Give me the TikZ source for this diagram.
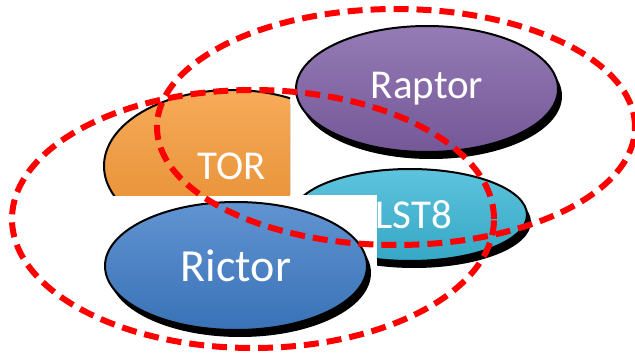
\documentclass[tikz,border=0pt]{standalone}
\usepackage{fontspec}
\setmainfont{Carlito}
\usetikzlibrary{shapes.geometric, shadows}
\definecolor{torfill}{RGB}{246,152,52}
\definecolor{raptorfill}{RGB}{126,95,165}
\definecolor{lstfill}{RGB}{58,182,214}
\definecolor{rictorfill}{RGB}{62,124,199}
\tikzset{
protein/.style={ellipse, draw=black, line width=2pt, text=white, inner sep=0pt,
  font=\fontsize{41}{41}\selectfont,
  drop shadow={shadow xshift=4pt, shadow yshift=-7pt, fill=black, opacity=1}}, % one subunit
gloss/.style={top color=#1!82!white, middle color=#1, bottom color=#1!92!black}, % lighter on top
complex/.style={red, line width=6pt, dash pattern=on 15pt off 8pt}, % dashed ring round a complex
}

\begin{document}
\begin{tikzpicture}[x=1pt, y=-1pt]
\useasboundingbox (0,0) rectangle (635,353);

% TOR is partly hidden
\begin{scope}
\clip (0,0) rectangle (290,195);
\node[protein, gloss=torfill, minimum width=256pt, minimum height=152pt] (tor) at (232,166) {TOR};
\end{scope}

\node[protein, gloss=lstfill, minimum width=234pt, minimum height=92pt] (lst8) at (410,215) {\hspace{8pt}LST8};
\fill[white] (290,195) rectangle (377,300);

\node[protein, gloss=raptorfill, minimum width=262pt, minimum height=126pt] (raptor) at (427,89) {Raptor};
\node[protein, gloss=rictorfill, minimum width=262pt, minimum height=128pt,
  font=\fontsize{46}{46}\selectfont] (rictor) at (236,266) {Rictor};

% the two complexes
\draw[complex] (396,127) ellipse [x radius=239pt, y radius=118pt];
\draw[complex] (253,219) ellipse [x radius=241pt, y radius=129pt];

\end{tikzpicture}
\end{document}
